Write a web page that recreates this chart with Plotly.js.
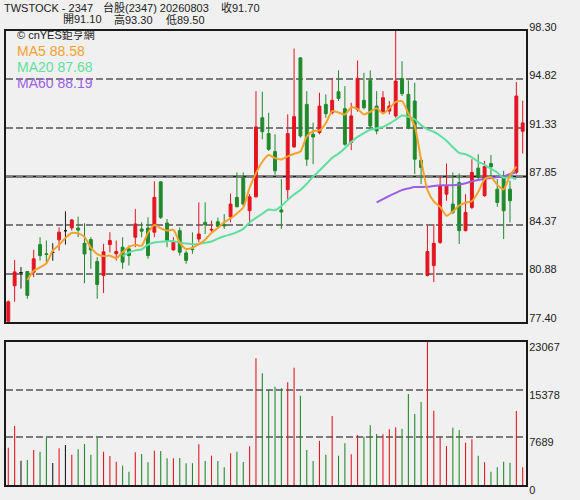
<!DOCTYPE html>
<html>
<head>
<meta charset="utf-8">
<script src="https://cdn.plot.ly/plotly-3.0.1.min.js"></script>
<style>html,body{margin:0;padding:0;background:#f0f0f0;}#chart{width:580px;height:500px;}</style>
</head>
<body>
<div id="chart"></div>
<script>
// ---- data ----
const days = Array.from({length: 82}, (_, i) => i);
const openP  = [77.45,80.00,80.95,81.03,80.98,82.96,82.30,82.40,83.30,83.96,84.16,84.15,83.06,83.32,81.74,80.74,82.96,82.30,82.77,82.65,
                83.49,84.08,84.15,83.85,87.47,84.51,82.58,83.96,82.36,82.65,83.36,84.56,84.00,84.60,84.40,84.96,86.35,87.78,85.39,86.39,
                92.07,90.93,89.64,85.45,86.90,89.97,96.37,93.03,90.88,91.00,93.03,92.43,93.94,92.72,90.29,92.67,93.32,94.75,92.91,92.50,
                92.55,92.20,94.89,93.75,93.27,89.02,80.74,81.45,83.12,86.58,85.87,87.42,83.96,85.63,88.45,86.47,88.78,86.94,87.90,86.94,
                88.14,91.10];
const highP  = [78.95,81.85,81.35,81.05,82.58,83.49,83.25,83.06,84.20,85.35,84.80,84.97,84.49,83.49,82.06,83.01,83.85,83.25,83.49,82.90,
                85.52,84.56,84.92,87.50,87.50,84.80,83.49,84.20,82.53,83.84,85.99,85.99,84.68,84.90,85.15,86.63,88.14,88.14,86.59,93.98,
                93.94,92.43,90.88,87.66,92.31,97.04,96.40,93.98,91.72,93.87,93.75,94.94,95.47,94.34,93.15,96.18,95.30,95.47,93.98,93.98,
                93.27,98.30,96.13,94.75,94.58,89.21,84.32,84.44,87.90,88.78,88.14,88.07,86.58,89.09,89.45,88.97,89.40,87.66,88.26,87.54,
                94.63,93.30];
const lowP   = [77.40,78.85,79.80,79.07,80.62,81.82,81.60,81.80,82.53,82.96,83.96,83.49,80.19,81.22,79.07,79.48,82.40,81.82,81.22,81.46,
                82.77,83.49,81.94,83.49,84.80,82.77,82.53,82.17,81.58,82.30,83.12,83.72,83.72,84.08,84.08,84.56,85.63,85.75,84.56,86.35,
                90.52,89.69,87.97,84.08,86.23,89.93,90.64,88.61,88.74,90.88,92.07,92.31,93.27,90.05,89.74,92.50,92.67,91.24,90.88,92.43,
                92.31,92.07,93.63,91.24,88.02,87.30,80.67,80.26,83.00,86.11,85.15,83.00,83.91,85.51,87.66,86.40,87.78,85.68,83.36,84.56,
                88.02,89.50];
const closeP = [78.85,81.00,80.95,79.31,81.94,82.17,82.25,82.40,83.85,83.96,84.73,84.00,82.29,82.58,80.10,82.44,83.25,82.46,81.70,82.17,
                84.44,83.92,82.17,86.35,84.92,83.25,83.13,82.41,81.82,82.60,83.72,84.39,84.05,84.27,84.30,85.87,85.68,85.87,86.39,91.41,
                91.07,89.81,88.26,85.30,90.93,92.15,90.76,89.09,90.69,92.91,92.36,93.32,93.46,90.17,92.20,94.90,92.79,91.48,91.12,93.51,
                92.91,94.70,93.80,91.36,89.09,88.50,82.46,83.05,87.18,87.18,85.27,83.96,85.27,88.14,87.78,88.57,88.54,85.99,85.39,86.11,
                93.63,91.70];
const volume = [6022,9517,3925,4033,5646,5377,7635,3549,5915,6452,4893,5753,6614,4893,7689,5377,4678,3764,3119,2151,
                5270,5001,3656,5538,5485,4302,4302,4355,3495,3495,6560,3871,4732,3871,2850,5108,5377,3710,6237,20433,
                18013,15324,15862,15593,16561,18927,14410,5646,3871,7098,4893,11130,4732,6721,4947,8066,7797,9625,8227,8173,
                8980,9302,9087,14679,11453,13389,23067,11991,7797,6291,9248,8872,6829,7366,4732,3656,2151,2850,3764,3603,
                11937,2850];
const priceTicks = [77.40, 80.88, 84.37, 87.85, 91.33, 94.82, 98.30];
const volTicks = [0, 7689, 15378, 23067];
const maPeriods = [5, 20, 60];
const maLabels = ['MA5 88.58', 'MA20 87.68', 'MA60 88.19'];
const maColors = ['#f5a22d', '#5fe0a0', '#9b5fe6'];
const titleLine1 = ['TWSTOCK - 2347', '台股(2347) 20260803', '收91.70'];
const titleLine2 = ['開91.10', '高93.30', '低89.50'];
const brand = '© cnYES鉅亨網';

// ---- styling ----
const RED = '#e3151f', GREEN = '#1f8a2c', BLACK = '#1a1a1a';
const FONT = 'Liberation Sans, Arial, Noto Sans CJK TC, sans-serif';
const L = 6, R = 54, T = 31, B = 15, W = 580, H = 500;
const pw = W - L - R, ph = H - T - B;
function px(x) { return (x - L) / pw; }
function py(y) { return (H - B - y) / ph; }

const isDoji = days.map(function (i) { return openP[i] === closeP[i]; });
function pick(arr, cond) { return days.filter(function (i) { return cond(i); }).map(function (i) { return arr[i]; }); }
function notDoji(i) { return !isDoji[i]; }
function doji(i) { return isDoji[i]; }
function barColor(i) {
  if (closeP[i] > openP[i]) return RED;
  if (closeP[i] < openP[i]) return GREEN;
  return BLACK;
}

const traces = [];
traces.push({
  type: 'candlestick', xaxis: 'x', yaxis: 'y',
  x: pick(days, notDoji), open: pick(openP, notDoji), high: pick(highP, notDoji),
  low: pick(lowP, notDoji), close: pick(closeP, notDoji),
  increasing: {line: {color: RED, width: 1}, fillcolor: RED},
  decreasing: {line: {color: GREEN, width: 1}, fillcolor: GREEN},
  whiskerwidth: 0, showlegend: false, hoverinfo: 'skip'
});
traces.push({
  type: 'candlestick', xaxis: 'x', yaxis: 'y',
  x: pick(days, doji), open: pick(openP, doji), high: pick(highP, doji),
  low: pick(lowP, doji), close: pick(closeP, doji),
  increasing: {line: {color: BLACK, width: 1}, fillcolor: BLACK},
  decreasing: {line: {color: BLACK, width: 1}, fillcolor: BLACK},
  whiskerwidth: 0, showlegend: false, hoverinfo: 'skip'
});

// moving averages of the closes (the source chart draws each value one day to the left)
for (let m = maPeriods.length - 1; m >= 0; m--) {
  const n = maPeriods[m];
  const mx = [], my = [];
  for (let k = n - 1; k < closeP.length; k++) {
    let s = 0;
    for (let j = k - n + 1; j <= k; j++) s += closeP[j];
    mx.push(days[k] - 1);
    my.push(s / n);
  }
  traces.push({type: 'scatter', mode: 'lines', x: mx, y: my, xaxis: 'x', yaxis: 'y',
    line: {color: maColors[m], width: 2, shape: 'spline', smoothing: 0.6},
    showlegend: false, hoverinfo: 'skip'});
}

traces.push({
  type: 'bar', x: days, y: volume, xaxis: 'x2', yaxis: 'y2', width: 0.17,
  marker: {color: days.map(barColor), line: {width: 0}},
  showlegend: false, hoverinfo: 'skip'
});

const xr = [-0.36, 81.52];
const frame = {showline: true, mirror: true, linecolor: BLACK, linewidth: 2, zeroline: false};
const annotations = [];
const t1x = [3, 102, 220], t2x = [62, 113, 165];
titleLine1.forEach(function (t, i) {
  annotations.push({text: t, xref: 'paper', yref: 'paper', x: px(t1x[i]), y: py(8),
    xanchor: 'left', yanchor: 'middle', showarrow: false, borderpad: 0, font: {family: FONT, size: 11, color: '#222'}});
});
titleLine2.forEach(function (t, i) {
  annotations.push({text: t, xref: 'paper', yref: 'paper', x: px(t2x[i]), y: py(19),
    xanchor: 'left', yanchor: 'middle', showarrow: false, borderpad: 0, font: {family: FONT, size: 11, color: '#222'}});
});
annotations.push({text: brand, xref: 'paper', yref: 'paper', x: px(16), y: py(35), xanchor: 'left', yanchor: 'middle',
  showarrow: false, borderpad: 0, font: {family: FONT, size: 11, color: '#222'}});
maLabels.forEach(function (t, i) {
  annotations.push({text: t, xref: 'paper', yref: 'paper', x: px(16), y: py(51 + 16 * i),
    xanchor: 'left', yanchor: 'middle', showarrow: false, borderpad: 0, font: {family: FONT, size: 14, color: maColors[i]}});
});

const layout = {
  width: W, height: H,
  margin: {l: L, r: R, t: T, b: B, pad: 0},
  paper_bgcolor: '#f0f0f0', plot_bgcolor: '#f0f0f0',
  showlegend: false, hovermode: false, boxgap: 0.35,
  xaxis: Object.assign({anchor: 'y', range: xr, showticklabels: false, showgrid: false, ticks: '',
    rangeslider: {visible: false}}, frame),
  xaxis2: Object.assign({anchor: 'y2', range: xr, showticklabels: false, showgrid: false, ticks: ''}, frame),
  yaxis: Object.assign({domain: [(H - B - 322) / ph, 1], range: [priceTicks[0], priceTicks[priceTicks.length - 1]],
    side: 'right', tickvals: priceTicks, ticktext: priceTicks.map(function (v) { return v.toFixed(2); }), ticks: '',
    showgrid: true, gridcolor: '#7b7b7b', gridwidth: 2, griddash: '7px,3px',
    tickfont: {family: FONT, size: 11, color: '#222'}, ticklabelshift: -4, ticklabelstandoff: -1}, frame),
  yaxis2: Object.assign({domain: [0, (H - B - 342) / ph], range: [volTicks[0], volTicks[volTicks.length - 1]],
    side: 'right', tickvals: volTicks, ticktext: volTicks.map(String), ticks: '',
    showgrid: true, gridcolor: '#7b7b7b', gridwidth: 2, griddash: '7px,3px',
    tickfont: {family: FONT, size: 11, color: '#222'}, ticklabelshift: 5, ticklabelstandoff: -1}, frame),
  shapes: [{type: 'line', xref: 'paper', yref: 'y', x0: 0, x1: 1, y0: priceTicks[3], y1: priceTicks[3],
    line: {color: BLACK, width: 2}, layer: 'between'}],
  annotations: annotations
};

Plotly.newPlot('chart', traces, layout, {staticPlot: true, displayModeBar: false});
</script>
</body>
</html>
